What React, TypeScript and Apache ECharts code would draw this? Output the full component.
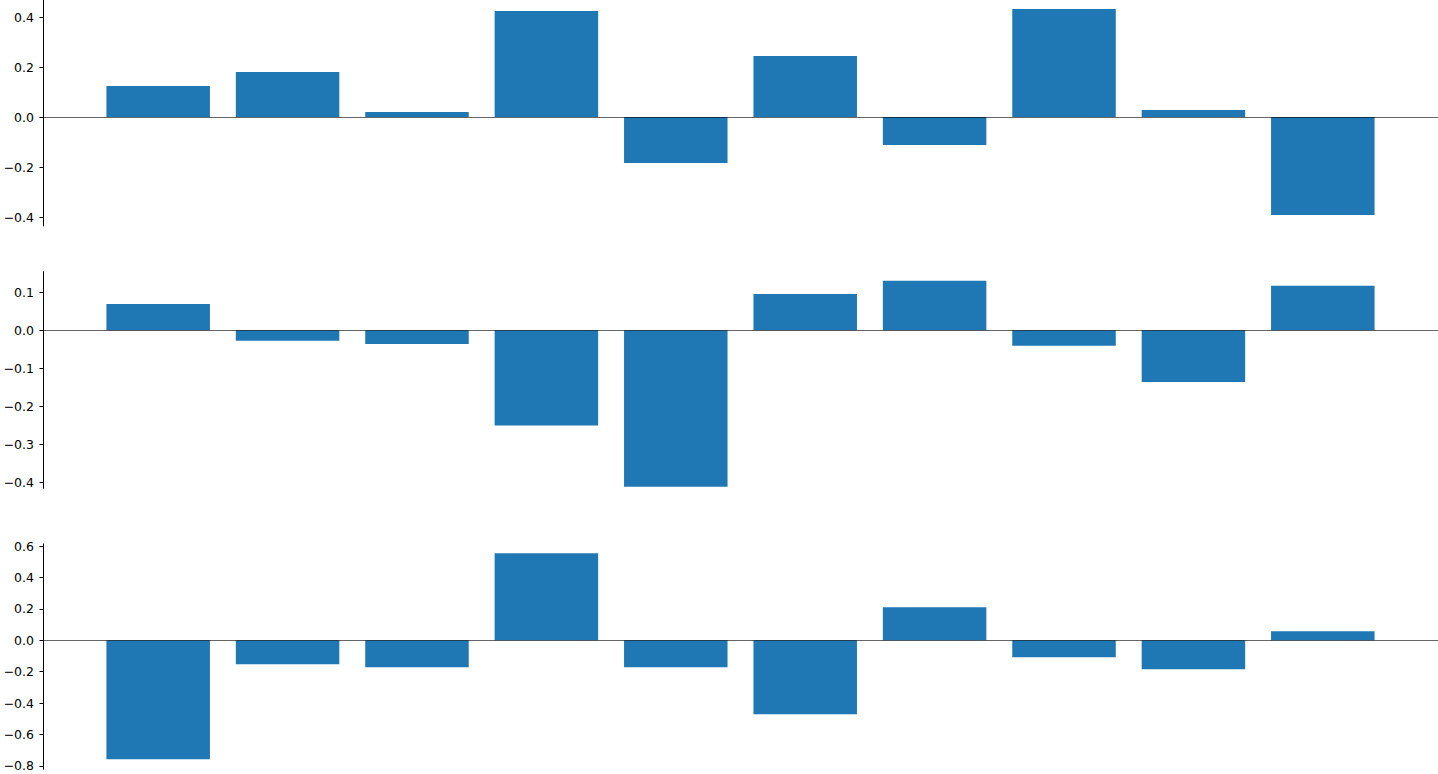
import { useEffect, useRef } from 'react'
import * as echarts from 'echarts'

const positions = [0, 1, 2, 3, 4, 5, 6, 7, 8, 9]

const topValues = [0.124, 0.18, 0.02, 0.424, -0.184, 0.244, -0.112, 0.432, 0.028, -0.392]
const midValues = [0.069, -0.028, -0.036, -0.251, -0.412, 0.0955, 0.13, -0.041, -0.136, 0.117]
const bottomValues = [-0.758, -0.153, -0.172, 0.554, -0.172, -0.471, 0.21, -0.108, -0.185, 0.057]

const topTicks = [-0.4, -0.2, 0, 0.2, 0.4]
const midTicks = [-0.4, -0.3, -0.2, -0.1, 0, 0.1]
const bottomTicks = [-0.8, -0.6, -0.4, -0.2, 0, 0.2, 0.4, 0.6]

const BAR_COLOR = '#1f77b4'
const FONT = 'DejaVu Sans, sans-serif'

const fmt = (v: number) => {
  const r = Math.round(v * 10) / 10
  if (r === 0) return '0.0'
  return (r < 0 ? '\u2212' : '') + Math.abs(r).toFixed(1)
}

// panel layout (pixels / axis limits)
const panels = [
  { values: topValues, ticks: topTicks, top: 0, height: 226, min: -0.436, max: 0.468 },
  { values: midValues, ticks: midTicks, top: 271.7, height: 216.6, min: -0.416, max: 0.154 },
  { values: bottomValues, ticks: bottomTicks, top: 544, height: 225.3, min: -0.822, max: 0.613 },
]

export default function App() {
  const chartRef = useRef<HTMLDivElement>(null)

  useEffect(() => {
    if (!chartRef.current) return
    const chart = echarts.init(chartRef.current, undefined, { renderer: 'svg' })

    const option: echarts.EChartsOption = {
      animation: false,
      backgroundColor: '#fff',
      grid: panels.map((p) => ({
        left: 43,
        right: 0,
        top: p.top,
        height: p.height,
        containLabel: false,
      })),
      xAxis: panels.map((_, i) => ({
        type: 'value',
        gridIndex: i,
        min: -0.89,
        max: 9.89,
        z: 10,
        axisLine: {
          show: true,
          onZero: true,
          lineStyle: { color: 'rgba(0,0,0,0.6)', width: 1 },
        },
        axisTick: { show: false },
        axisLabel: { show: false },
        splitLine: { show: false },
      })),
      yAxis: panels.map((p, i) => ({
        type: 'value',
        gridIndex: i,
        min: p.min,
        max: p.max,
        axisLine: { show: true, onZero: false, lineStyle: { color: '#000', width: 1 } },
        axisTick: {
          show: true,
          length: 3.5,
          lineStyle: { color: '#000', width: 1 },
          customValues: p.ticks,
        },
        axisLabel: {
          show: true,
          margin: 9,
          color: '#000',
          fontSize: 12.5,
          fontFamily: FONT,
          customValues: p.ticks,
          formatter: (v: number) => fmt(v),
        },
        splitLine: { show: false },
      })),
      series: panels.map((p, i) => ({
        type: 'bar',
        xAxisIndex: i,
        yAxisIndex: i,
        barWidth: 103.5,
        itemStyle: { color: BAR_COLOR },
        data: positions.map((x, j) => [x, p.values[j]]),
      })),
    }

    chart.setOption(option)
    return () => chart.dispose()
  }, [])

  return (
    <div
      ref={chartRef}
      style={{ position: 'fixed', left: 0, top: 0, width: 1438, height: 774 }}
    />
  )
}
